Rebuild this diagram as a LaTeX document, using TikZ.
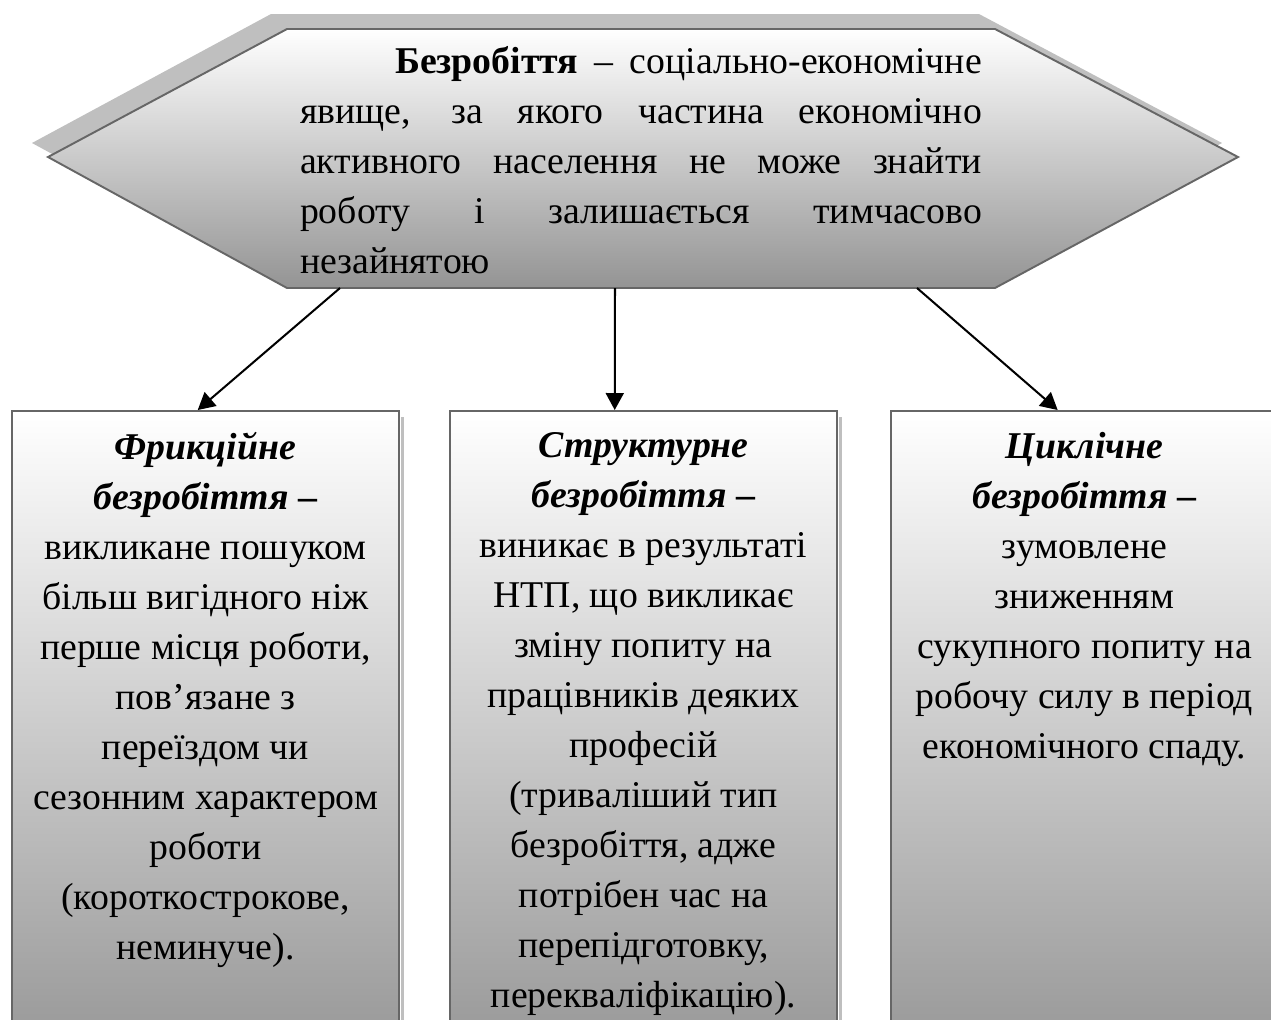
\documentclass[tikz,border=0pt]{standalone}
\usepackage{fontspec}
\setmainfont{Liberation Serif}
\usetikzlibrary{calc,arrows.meta}

\tikzset{
  hexfill/.style={draw=black!60, line width=1.1pt, top color=white, bottom color=black!42},
  hexshadow/.style={fill=black!25},
  boxfill/.style={draw=black!60, line width=1.1pt, top color=white, bottom color=black!40,
    minimum width=7.74cm, minimum height=12.6cm, anchor=north, inner sep=0pt},
  boxshadow/.style={fill=black!25},
  boxtext/.style={anchor=north, align=center, inner sep=0pt,
    font=\fontsize{21.5}{28.45}\selectfont},
  arr/.style={-{Triangle[length=0.34cm,width=0.36cm]}, line width=1.15pt}
}

\begin{document}
\begin{tikzpicture}[x=0.02cm,y=-0.02cm]
			\useasboundingbox (0,0) rectangle (1271,1019);
			\clip (0,0) rectangle (1271,1019);

			% top hexagon
			\fill[hexshadow] (32,143) -- (271,14) -- (979,14) -- (1222,143) -- (979,273) -- (271,273) -- cycle;
			\draw[hexfill] (48,157) -- (287,29) -- (995,29) -- (1238,157) -- (995,288) -- (287,288) -- cycle;
			\node[inner sep=0pt, font=\fontsize{21.5}{28.45}\selectfont] (def) at (641,160)
				{\parbox{13.64cm}{\hspace*{1.9cm}\textbf{Безробіття} – соціально-економічне\linebreak
				явище, за якого частина економічно\linebreak
				активного населення не може знайти\linebreak
				роботу і залишається тимчасово\linebreak
				незайнятою}};

			\coordinate (h1) at (340,288);
			\coordinate (h2) at (615,288);
			\coordinate (h3) at (917,288);

			% three boxes
			\node[boxfill] (fric) at (205.5,410) {};
			\node[boxfill] (struct) at (643.5,410) {};
			\node[boxfill] (cycl) at (1084.5,410) {};

			\fill[boxshadow] ($(fric.north east)+(1,7)$) rectangle ($(fric.south east)+(4,0)$);
			\fill[boxshadow] ($(struct.north east)+(1,7)$) rectangle ($(struct.south east)+(4,0)$);

			\node[boxtext] (fricT) at ($(fric.north)+(0,22)$)
				{\textbf{\textit{Фрикційне}}\\
				\textbf{\textit{безробіття} –}\\
				викликане пошуком\\
				більш вигідного ніж\\
				перше місця роботи,\\
				пов’язане з\\
				переїздом чи\\
				сезонним характером\\
				роботи\\
				(короткострокове,\\
				неминуче).};
			\node[boxtext] (structT) at ($(struct.north)+(0,22)$)
				{\textbf{\textit{Структурне}}\\
				\textbf{\textit{безробіття} –}\\
				виникає в результаті\\
				НТП, що викликає\\
				зміну попиту на\\
				працівників деяких\\
				професій\\
				(триваліший тип\\
				безробіття, адже\\
				потрібен час на\\
				перепідготовку,\\
				перекваліфікацію).};
			\node[boxtext] (cyclT) at ($(cycl.north)+(0,22)$)
				{\textbf{\textit{Циклічне}}\\
				\textbf{\textit{безробіття} –}\\
				зумовлене\\
				зниженням\\
				сукупного попиту на\\
				робочу силу в період\\
				економічного спаду.};

			% arrows
			\draw[arr] (h1) -- ($(fric.north west)!0.48!(fric.north east)$);
			\draw[arr] (h2) -- ($(struct.north west)!0.426!(struct.north east)$);
			\draw[arr] (h3) -- ($(cycl.north west)!0.431!(cycl.north east)$);
		\end{tikzpicture}
\end{document}
